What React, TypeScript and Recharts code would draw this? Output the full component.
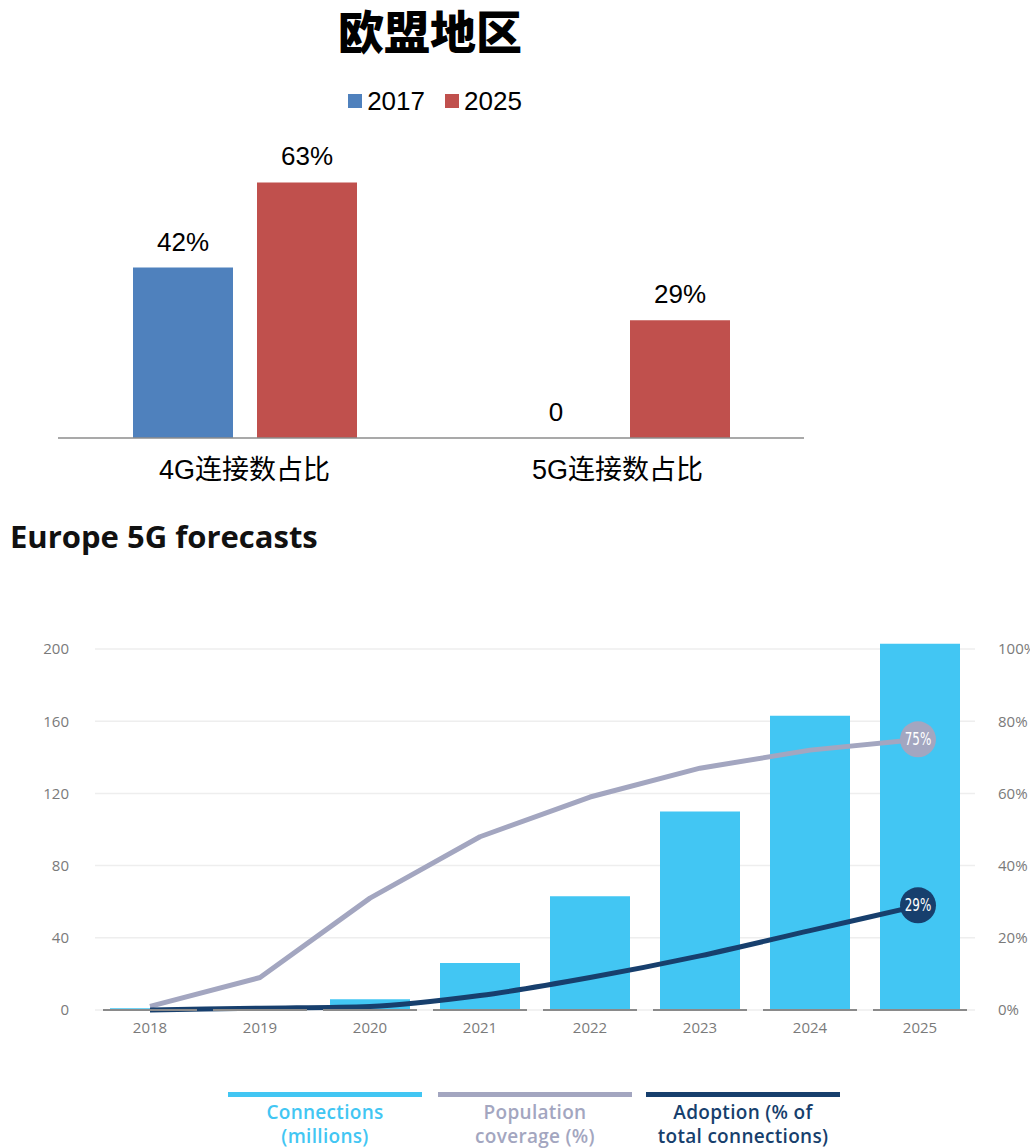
import React from 'react';
import {
  BarChart,
  Bar,
  ComposedChart,
  Line,
  XAxis,
  YAxis,
  CartesianGrid,
  LabelList,
} from 'recharts';

// EU share of connections by technology
const shareCategories = ['4G连接数占比', '5G连接数占比'];
const share2017 = [42, 0];
const share2025 = [63, 29];

// Europe 5G forecasts
const forecastYears = ['2018', '2019', '2020', '2021', '2022', '2023', '2024', '2025'];
const connectionsMillions = [1, 1, 6, 26, 63, 110, 163, 203];
const populationCoverage = [1, 9, 31, 48, 59, 67, 72, 75];
const adoptionShare = [0, 0.5, 1, 4, 9, 15, 22, 29];
const leftTicks = [0, 40, 80, 120, 160, 200];
const rightTicks = [0, 20, 40, 60, 80, 100];

const BLUE = '#4f81bd';
const RED = '#c0504d';
const SKY = '#42c6f3';
const LAVENDER = '#a3a6c0';
const NAVY = '#173f6d';

const shareData = shareCategories.map((name, i) => ({
  name,
  y2017: share2017[i],
  y2025: share2025[i],
}));

const forecastData = forecastYears.map((year, i) => ({
  year,
  connections: connectionsMillions[i],
  coverage: populationCoverage[i],
  adoption: adoptionShare[i],
}));

const cnFont = '"Liberation Sans", "Noto Sans CJK SC", sans-serif';
const enFont = '"Open Sans", "Lato", sans-serif';

const ShareTick = (props: any) => {
  const { x, y, payload } = props;
  return (
    <text x={x} y={y + 34} textAnchor="middle" dominantBaseline="middle" fill="#000" fontSize={27} fontFamily={cnFont}>
      {payload.value}
    </text>
  );
};

// each year sits on its own short baseline segment
const YearTick = (props: any) => {
  const { x, y, payload } = props;
  return (
    <g>
      <line x1={x - 47} x2={x + 47} y1={y} y2={y} stroke="#8a8a8a" strokeWidth={2} />
      <text x={x} y={y + 19} textAnchor="middle" dominantBaseline="middle" fill="#7a7a7a" fontSize={15} fontFamily={enFont}>
        {payload.value}
      </text>
    </g>
  );
};

const makeBadge = (fill: string, key: 'coverage' | 'adoption') => (props: any) => {
  const { cx, cy, index, payload } = props;
  if (index !== forecastData.length - 1) return <g key={`b-${key}-${index}`} />;
  return (
    <g key={`b-${key}-${index}`}>
      <circle cx={cx - 2} cy={cy} r={18} fill={fill} />
      <text
        x={cx - 2}
        y={cy + 1}
        textAnchor="middle"
        dominantBaseline="middle"
        fill="#fff"
        fontSize={17}
        fontFamily='"Liberation Sans Narrow", "DejaVu Sans Condensed", sans-serif'
        style={{ fontStretch: 'condensed' }}
        transform={`translate(${cx - 2} 0) scale(0.78 1) translate(${-(cx - 2)} 0)`}
      >
        {payload[key]}%
      </text>
    </g>
  );
};

// zero bars still need a rectangle so the value label is placed
const zeroSafeMin = (value: any) => (value === 0 ? 0.01 : 0);

const legendItems = [
  { color: SKY, lines: ['Connections', '(millions)'], left: 228 },
  { color: LAVENDER, lines: ['Population', 'coverage (%)'], left: 438 },
  { color: NAVY, lines: ['Adoption (% of', 'total connections)'], left: 646 },
];

export default function App() {
  return (
    <div style={{ position: 'absolute', left: 0, top: 0, width: 1030, height: 1148, background: '#fff', overflow: 'hidden' }}>
      {/* top: EU region */}
      <div
        style={{
          position: 'absolute', left: 230, width: 400, top: 0, textAlign: 'center',
          fontFamily: '"Noto Sans CJK SC", sans-serif', fontWeight: 900, fontSize: 46, lineHeight: '58px', color: '#000',
        }}
      >
        欧盟地区
      </div>
      <div
        style={{
          position: 'absolute', left: 235, width: 400, top: 85, display: 'flex', justifyContent: 'center', gap: 20,
          fontFamily: cnFont, fontSize: 26, lineHeight: '32px', color: '#000',
        }}
      >
        {[{ c: BLUE, t: '2017' }, { c: RED, t: '2025' }].map(d => (
          <span key={d.t} style={{ display: 'flex', alignItems: 'center', gap: 5 }}>
            <span style={{ display: 'inline-block', width: 14, height: 14, background: d.c }} />
            {d.t}
          </span>
        ))}
      </div>
      <div style={{ position: 'absolute', left: 0, top: 0 }}>
        <BarChart width={860} height={500} data={shareData} margin={{ top: 154, right: 56, bottom: 22, left: 58 }} barSize={100} barGap={24}>
          <XAxis
            dataKey="name"
            height={40}
            axisLine={{ stroke: '#8c8c8c', strokeWidth: 1.5 }}
            tickLine={false}
            tickSize={0}
            tickMargin={0}
            tick={<ShareTick />}
            interval={0}
          />
          <YAxis hide domain={[0, 70]} />
          <Bar dataKey="y2017" fill={BLUE} minPointSize={zeroSafeMin} isAnimationActive={false}>
            <LabelList dataKey="y2017" position="top" offset={17} formatter={(v: any) => (v === 0 ? '0' : `${v}%`)} fill="#000" fontSize={26} fontFamily={cnFont} />
          </Bar>
          <Bar dataKey="y2025" fill={RED} isAnimationActive={false}>
            <LabelList dataKey="y2025" position="top" offset={17} formatter={(v: any) => `${v}%`} fill="#000" fontSize={26} fontFamily={cnFont} />
          </Bar>
        </BarChart>
      </div>

      {/* bottom: Europe 5G forecasts */}
      <div
        style={{
          position: 'absolute', left: 10, top: 516, fontFamily: enFont, fontWeight: 700, fontSize: 31,
          lineHeight: '40px', color: '#111',
        }}
      >
        Europe 5G forecasts
      </div>
      <div style={{ position: 'absolute', left: 0, top: 560 }}>
        <ComposedChart width={1030} height={520} data={forecastData} margin={{ top: 71, right: 0, bottom: 30, left: 0 }}>
          <CartesianGrid yAxisId="left" vertical={false} syncWithTicks stroke="#eeeeee" strokeWidth={1.5} />
          <XAxis
            dataKey="year"
            height={40}
            axisLine={false}
            tickLine={false}
            tickSize={0}
            tickMargin={0}
            tick={<YearTick />}
            interval={0}
          />
          <YAxis
            yAxisId="left"
            width={95}
            domain={[0, 210]}
            ticks={leftTicks}
            axisLine={false}
            tickLine={false}
            tickSize={0}
            tickMargin={26}
            tick={{ fill: '#7a7a7a', fontSize: 15, fontFamily: enFont }}
          />
          <YAxis
            yAxisId="right"
            orientation="right"
            width={55}
            domain={[0, 105]}
            ticks={rightTicks}
            tickFormatter={(v: number) => `${v}%`}
            axisLine={false}
            tickLine={false}
            tickSize={0}
            tickMargin={23}
            tick={{ fill: '#7a7a7a', fontSize: 15, fontFamily: enFont, textAnchor: 'start' }}
          />
          <Bar yAxisId="left" dataKey="connections" fill={SKY} barSize={80} isAnimationActive={false} />
          <Line
            yAxisId="right"
            type="linear"
            dataKey="coverage"
            stroke={LAVENDER}
            strokeWidth={5}
            strokeLinejoin="round"
            dot={makeBadge(LAVENDER, 'coverage')}
            activeDot={false}
            isAnimationActive={false}
          />
          <Line
            yAxisId="right"
            type="monotone"
            dataKey="adoption"
            stroke={NAVY}
            strokeWidth={5}
            dot={makeBadge(NAVY, 'adoption')}
            activeDot={false}
            isAnimationActive={false}
          />
        </ComposedChart>
      </div>

      {legendItems.map(item => (
        <div key={item.left} style={{ position: 'absolute', left: item.left, top: 1092, width: 194 }}>
          <div style={{ height: 5, background: item.color }} />
          <div
            style={{
              marginTop: 3, textAlign: 'center', color: item.color, fontFamily: enFont, fontWeight: 600,
              fontSize: 19, lineHeight: '24px', whiteSpace: 'nowrap', letterSpacing: 0.3,
            }}
          >
            {item.lines[0]}
            <br />
            {item.lines[1]}
          </div>
        </div>
      ))}
    </div>
  );
}
